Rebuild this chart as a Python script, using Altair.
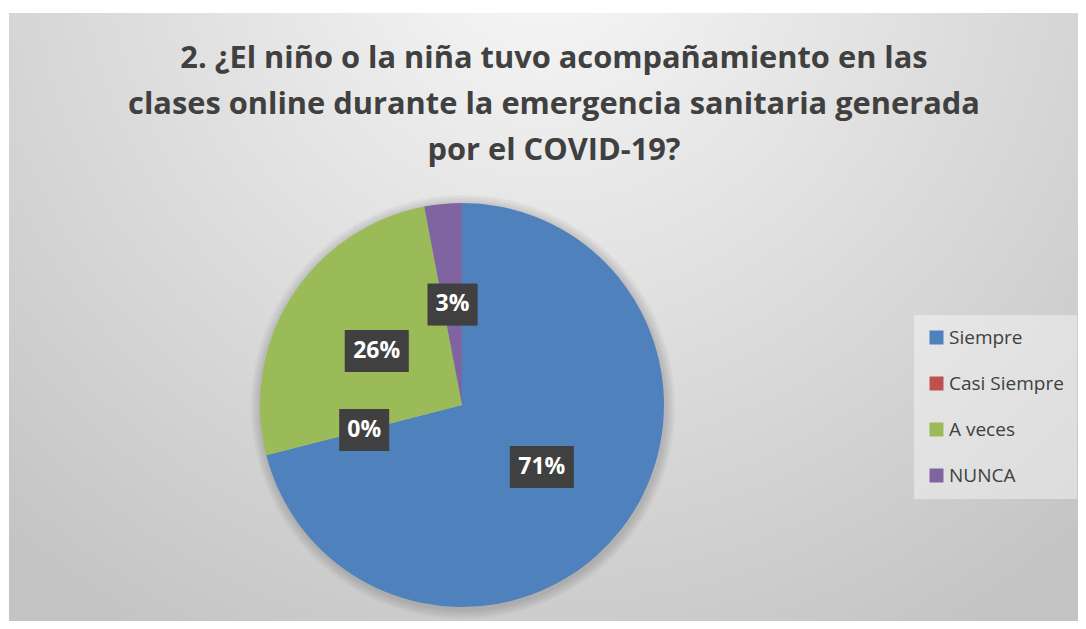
import altair as alt
import pandas as pd

categories = ["Siempre", "Casi Siempre", "A veces", "NUNCA"]
percentages = [71, 0, 26, 3]
labels = ["71%", "0%", "26%", "3%"]
colors = ["#4F81BD", "#C0504D", "#9BBB59", "#8064A2"]
title_lines = [
    "2. ¿El niño o la niña tuvo acompañamiento en las",
    "clases online durante la emergencia sanitaria generada",
    "por el COVID-19?",
]

df = pd.DataFrame({"cat": categories, "value": percentages,
                   "label": labels, "idx": list(range(len(categories)))})

W, H = 1069, 608
CX, CY, R = 453, 392, 202
FONT = "Open Sans"

color_scale = alt.Scale(domain=categories, range=colors)

bg_grad = alt.RadialGradient(
    gradient="radial", x1=0.5, y1=0.15, r1=0, x2=0.5, y2=0.15, r2=0.75,
    stops=[alt.GradientStop(offset=0, color="#f8f8f8"),
           alt.GradientStop(offset=1, color="#c4c4c4")],
)
background = alt.Chart(pd.DataFrame({"t": [0]})).mark_rect(fill=bg_grad).encode(
    x=alt.value(0), x2=alt.value(W), y=alt.value(0), y2=alt.value(H)
)

# soft shadow around the pie
shadow_layers = [
    alt.Chart(df).transform_filter("datum.idx == 0")
    .mark_arc(theta=0, theta2=6.2832, radius=R + k, color="black", opacity=0.03)
    .encode(x=alt.value(CX + 1), y=alt.value(CY + 2))
    for k in (2, 4, 6, 8, 10)
]

pie = alt.Chart(df).mark_arc(radius=R).encode(
    theta=alt.Theta("value:Q", stack=True),
    color=alt.Color(
        "cat:N", scale=color_scale, sort=categories,
        legend=alt.Legend(
            orient="none", legendX=905, legendY=302, title=None,
            symbolType="square", symbolSize=196, symbolStrokeWidth=0,
            labelFont=FONT, labelFontSize=19, labelColor="#404040",
            rowPadding=26, padding=13, labelOffset=3,
            fillColor="rgba(255,255,255,0.4)",
        ),
    ),
    order=alt.Order("idx:Q"),
    x=alt.value(CX), y=alt.value(CY),
)

lab_base = (
    alt.Chart(df)
    .transform_joinaggregate(total="sum(value)")
    .transform_window(cum="sum(value)", sort=[alt.SortField("idx")], frame=[None, 0])
    .transform_calculate(mid="(datum.cum - datum.value/2) / datum.total * 2 * PI")
    .transform_calculate(
        px=f"{CX} + {R / 2} * sin(datum.mid)",
        py=f"{CY} - {R / 2} * cos(datum.mid)",
        bw="22 + 14 * length(datum.label)",
    )
    .transform_calculate(
        bx1="datum.px - datum.bw / 2", bx2="datum.px + datum.bw / 2",
        by1="datum.py - 21", by2="datum.py + 21",
    )
)

box_enc = dict(
    x=alt.X("bx1:Q", scale=None, axis=None), x2="bx2:Q",
    y=alt.Y("by1:Q", scale=None, axis=None), y2="by2:Q",
)
box_shadow = lab_base.mark_rect(fill="black", opacity=0.25, xOffset=3, yOffset=3).encode(**box_enc)
boxes = lab_base.mark_rect(fill="#404040").encode(**box_enc)
texts = lab_base.mark_text(font=FONT, fontWeight="bold", fontSize=23, color="white").encode(
    x=alt.X("px:Q", scale=None, axis=None),
    y=alt.Y("py:Q", scale=None, axis=None),
    text="label:N",
)

title = alt.Chart(pd.DataFrame({"t": [0]})).mark_text(
    text=title_lines, font=FONT, fontWeight="bold", fontSize=30.8, color="#404040",
    lineHeight=46, baseline="alphabetic", align="center",
).encode(x=alt.value(545), y=alt.value(55))

chart = (
    alt.layer(background, *shadow_layers, pie, box_shadow, boxes, texts, title)
    .properties(
        width=W, height=H,
        padding={"left": 1, "top": 5, "right": 0, "bottom": 0},
        autosize=alt.AutoSizeParams(type="none"),
        background="white",
    )
    .configure_view(stroke="#c0c0c0", strokeWidth=1)
)

chart.save("out.html", embed_options={"renderer": "svg", "actions": False})
